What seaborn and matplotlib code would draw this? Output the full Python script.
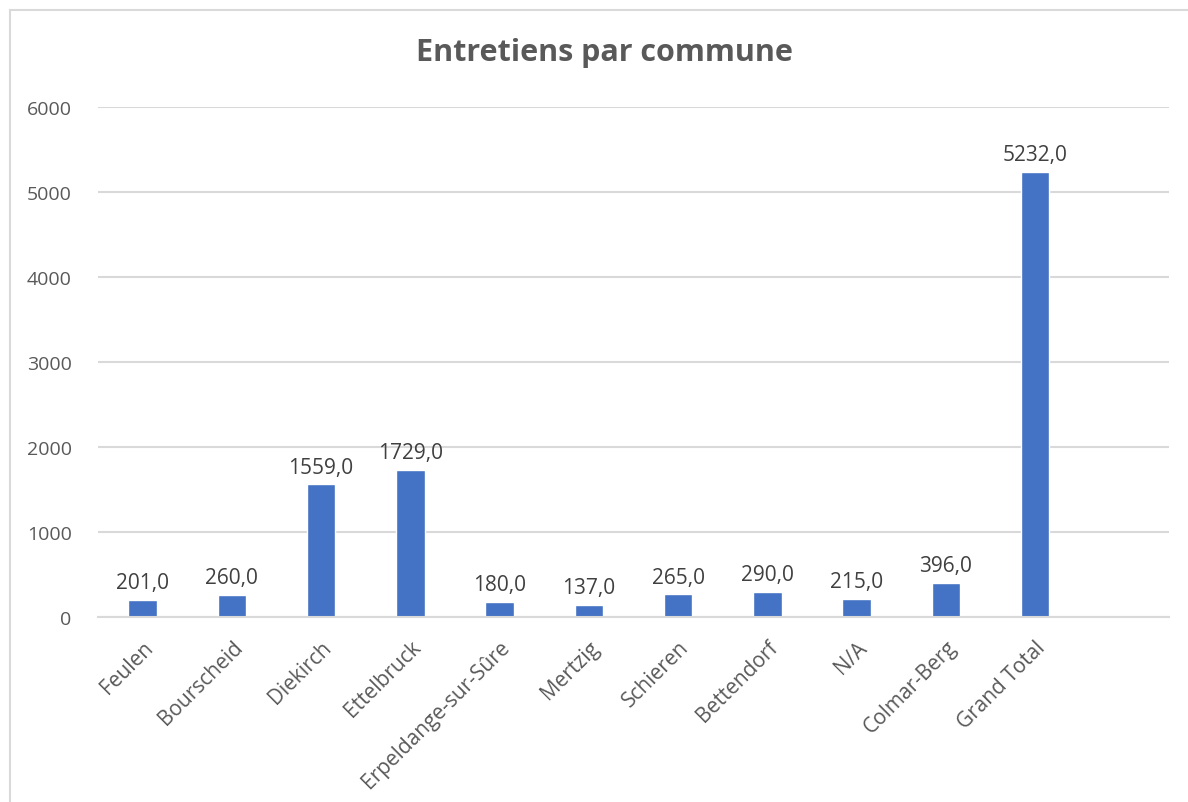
import matplotlib
matplotlib.use("Agg")
import matplotlib.pyplot as plt
import seaborn as sns
import pandas as pd
from matplotlib.lines import Line2D

communes = ["Feulen", "Bourscheid", "Diekirch", "Ettelbruck", "Erpeldange-sur-Sûre",
            "Mertzig", "Schieren", "Bettendorf", "N/A", "Colmar-Berg", "Grand Total"]
entretiens = [201, 260, 1559, 1729, 180, 137, 265, 290, 215, 396, 5232]
yticks = [0, 1000, 2000, 3000, 4000, 5000, 6000]
title = "Entretiens par commune"

sns.set_theme(style="white")
plt.rcParams["font.family"] = ["Open Sans", "DejaVu Sans"]

df = pd.DataFrame({"commune": communes, "entretiens": entretiens})

W, H = 1188, 803
fig = plt.figure(figsize=(W / 100, H / 100), dpi=100)
ax = fig.add_axes([98 / W, 1 - 618 / H, (1169 - 98) / W, (618 - 108) / H])

sns.barplot(data=df, x="commune", y="entretiens", order=communes, color="#4472C4",
            saturation=1, width=0.32, ax=ax)

ax.set_xlim(-0.5, 11.5)
ax.set_ylim(0, 6000)
ax.set_yticks(yticks)
ax.set_yticklabels([str(v) for v in yticks], color="#595959", fontsize=14)
ax.yaxis.grid(True, color="#D9D9D9", linewidth=1.5)
ax.set_axisbelow(True)
for s in ["top", "right", "left"]:
    ax.spines[s].set_visible(False)
ax.spines["bottom"].set_color("#D9D9D9")
ax.spines["bottom"].set_linewidth(1.5)
ax.tick_params(axis="both", length=0)
ax.tick_params(axis="y", pad=19)
ax.set_xlabel("")
ax.set_ylabel("")
ax.set_xticks(range(len(communes)))
ax.set_xticklabels(communes, rotation=45, ha="right", rotation_mode="anchor",
                   color="#595959", fontsize=15)
ax.tick_params(axis="x", pad=14)

for i, v in enumerate(entretiens):
    ax.annotate(f"{v},0", (i, v), xytext=(0, 5), textcoords="offset points",
                ha="center", va="bottom", fontsize=15, color="#404040")

fig.text(604 / W, 1 - 53 / H, title, ha="center", va="center", fontsize=22,
         fontweight="bold", color="#595959")

bx, by = 9.5 / W, 1 - 10.5 / H
fig.add_artist(Line2D([bx, bx], [0, by], transform=fig.transFigure, color="#D9D9D9", lw=1.5))
fig.add_artist(Line2D([bx, 1], [by, by], transform=fig.transFigure, color="#D9D9D9", lw=1.5))

fig.savefig("out.png", dpi=100, facecolor="white")
